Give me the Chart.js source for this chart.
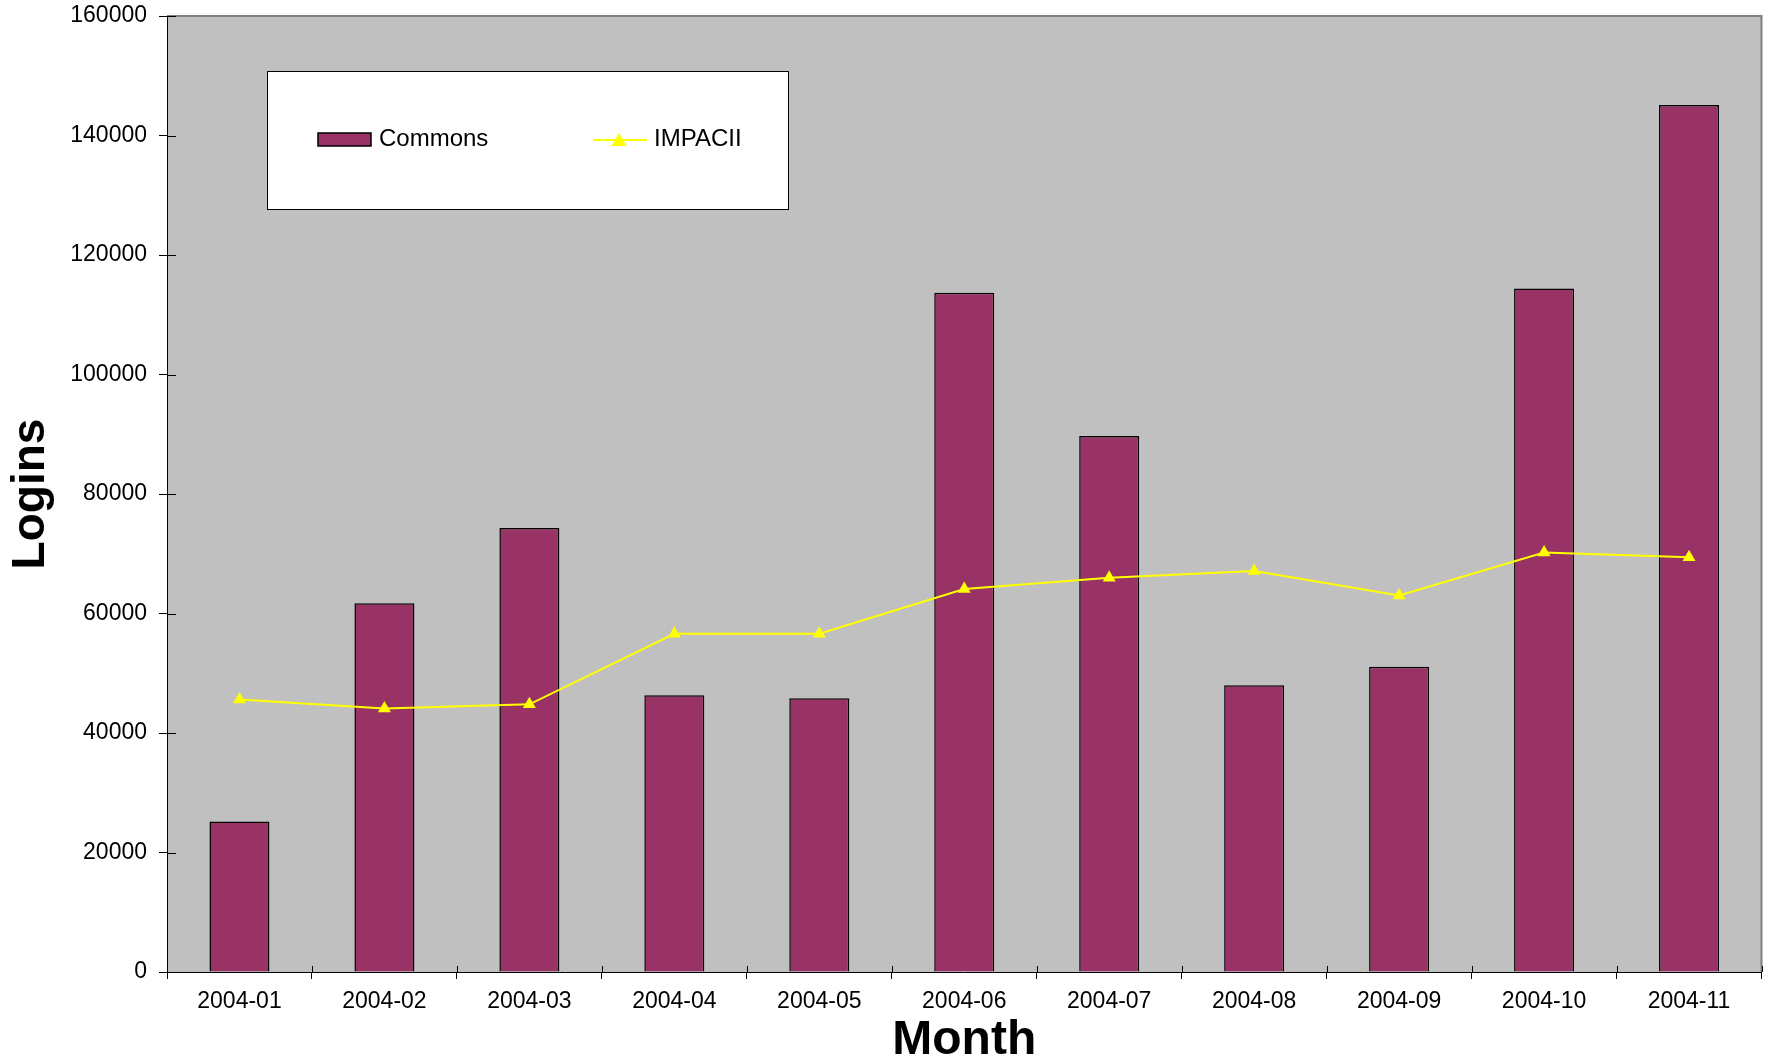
<!DOCTYPE html>
<html>
<head>
<meta charset="utf-8">
<script src="https://cdn.jsdelivr.net/npm/chart.js@4/dist/chart.umd.min.js"></script>
<style>
  body { margin: 0; background: #fff; }
  #wrap { width: 1769px; height: 1060px; }
</style>
</head>
<body>
<div id="wrap"><canvas id="myChart"></canvas></div>
<script>
const months = ['2004-01', '2004-02', '2004-03', '2004-04', '2004-05', '2004-06',
                '2004-07', '2004-08', '2004-09', '2004-10', '2004-11'];
const commons = [25200, 61700, 74300, 46300, 45800, 113700, 89700, 48000, 51100, 114400, 145100];
const impacii = [45600, 44100, 44800, 56600, 56600, 64100, 66000, 67100, 63000, 70200, 69400];
const yTicks = [0, 20000, 40000, 60000, 80000, 100000, 120000, 140000, 160000];

const FONT = "'Liberation Sans', Arial, sans-serif";

// grey plot area + frame
const plotBg = {
  id: 'plotBg',
  beforeDraw(chart) {
    const a = chart.chartArea;
    const ctx = chart.ctx;
    ctx.save();
    ctx.fillStyle = '#C0C0C0';
    ctx.fillRect(a.left, a.top, a.right - a.left, a.bottom - a.top);
    ctx.strokeStyle = '#808080';
    ctx.lineWidth = 2;
    ctx.beginPath();
    ctx.moveTo(a.left, a.top);
    ctx.lineTo(a.right, a.top);
    ctx.lineTo(a.right, a.bottom);
    ctx.stroke();
    ctx.restore();
  }
};

// tick marks that cross into the plot, and the boxed legend
const extras = {
  id: 'extras',
  afterDraw(chart) {
    const ctx = chart.ctx;
    const a = chart.chartArea;
    const x = chart.scales.x;
    const y = chart.scales.y;
    ctx.save();
    ctx.strokeStyle = '#000';
    ctx.lineWidth = 1;
    ctx.beginPath();
    yTicks.forEach(v => {
      const py = Math.round(y.getPixelForValue(v)) + 0.5;
      ctx.moveTo(a.left, py);
      ctx.lineTo(a.left + 9, py);
    });
    const half = (x.getPixelForValue(1) - x.getPixelForValue(0)) / 2;
    for (let i = 0; i <= months.length; i++) {
      const px = Math.round(x.getPixelForValue(i) - half) + 0.5;
      ctx.moveTo(px, a.bottom);
      ctx.lineTo(px, a.bottom - 6);
    }
    ctx.stroke();

    // legend box
    ctx.fillStyle = '#fff';
    ctx.fillRect(267, 71, 521, 138);
    ctx.strokeStyle = '#000';
    ctx.lineWidth = 1;
    ctx.strokeRect(267.5, 71.5, 521, 138);

    const bar = chart.data.datasets[0];
    const line = chart.data.datasets[1];
    ctx.fillStyle = bar.backgroundColor;
    ctx.fillRect(318, 133, 53, 13);
    ctx.lineWidth = 1.5;
    ctx.strokeRect(318, 133, 53, 13);

    ctx.strokeStyle = line.borderColor;
    ctx.lineWidth = 2;
    ctx.beginPath();
    ctx.moveTo(593, 140);
    ctx.lineTo(647, 140);
    ctx.stroke();
    ctx.fillStyle = line.backgroundColor;
    ctx.beginPath();
    ctx.moveTo(619, 133);
    ctx.lineTo(626.5, 146);
    ctx.lineTo(611.5, 146);
    ctx.closePath();
    ctx.fill();

    ctx.fillStyle = '#000';
    ctx.font = '24px ' + FONT;
    ctx.textBaseline = 'alphabetic';
    ctx.textAlign = 'left';
    ctx.fillText(bar.label, 379, 146);
    ctx.fillText(line.label, 654, 146);
    ctx.restore();
  }
};

const ctx = document.getElementById('myChart');
const myChart = new Chart(ctx, {
  data: {
    labels: months,
    datasets: [{
      type: 'bar',
      label: 'Commons',
      data: commons,
      backgroundColor: '#993366',
      borderColor: '#000000',
      borderWidth: 1.5,
      categoryPercentage: 1,
      barPercentage: 0.414,
      order: 1
    }, {
      type: 'line',
      label: 'IMPACII',
      data: impacii,
      borderColor: '#FFFF00',
      backgroundColor: '#FFFF00',
      borderWidth: 2,
      tension: 0,
      pointStyle: 'triangle',
      pointRadius: 7.5,
      pointBorderWidth: 0,
      order: 0
    }]
  },
  options: {
    responsive: true,
    maintainAspectRatio: false,
    animation: false,
    layout: { padding: { top: 16, right: 7, left: 0, bottom: 0 } },
    plugins: {
      legend: { display: false },
      tooltip: { enabled: false }
    },
    scales: {
      x: {
        afterFit: s => { s.height = 88; },
        grid: {
          offset: true,
          drawOnChartArea: false,
          drawTicks: true,
          tickLength: 7,
          tickColor: '#000'
        },
        border: { color: '#000', width: 1 },
        ticks: { color: '#000', padding: 9, font: { family: FONT, size: 23 } },
        title: {
          display: true,
          text: 'Month',
          color: '#000',
          padding: 0,
          font: { family: FONT, size: 48, weight: 'bold', lineHeight: 0.8 }
        }
      },
      y: {
        min: yTicks[0],
        max: yTicks[yTicks.length - 1],
        afterFit: s => {
          s.width = 167;
          s.paddingTop = 0;
          s.paddingBottom = 0;
        },
        afterBuildTicks: s => { s.ticks = yTicks.map(v => ({ value: v })); },
        grid: {
          drawOnChartArea: false,
          drawTicks: true,
          tickLength: 8,
          tickColor: '#000'
        },
        border: { color: '#000', width: 1 },
        ticks: {
          color: '#000',
          padding: 12,
          font: { family: FONT, size: 23 },
          callback: v => String(v)
        },
        title: {
          display: true,
          text: 'Logins',
          color: '#000',
          padding: { top: 4, bottom: 0 },
          font: { family: FONT, size: 46, weight: 'bold' }
        }
      }
    }
  },
  plugins: [plotBg, extras]
});
</script>
</body>
</html>
